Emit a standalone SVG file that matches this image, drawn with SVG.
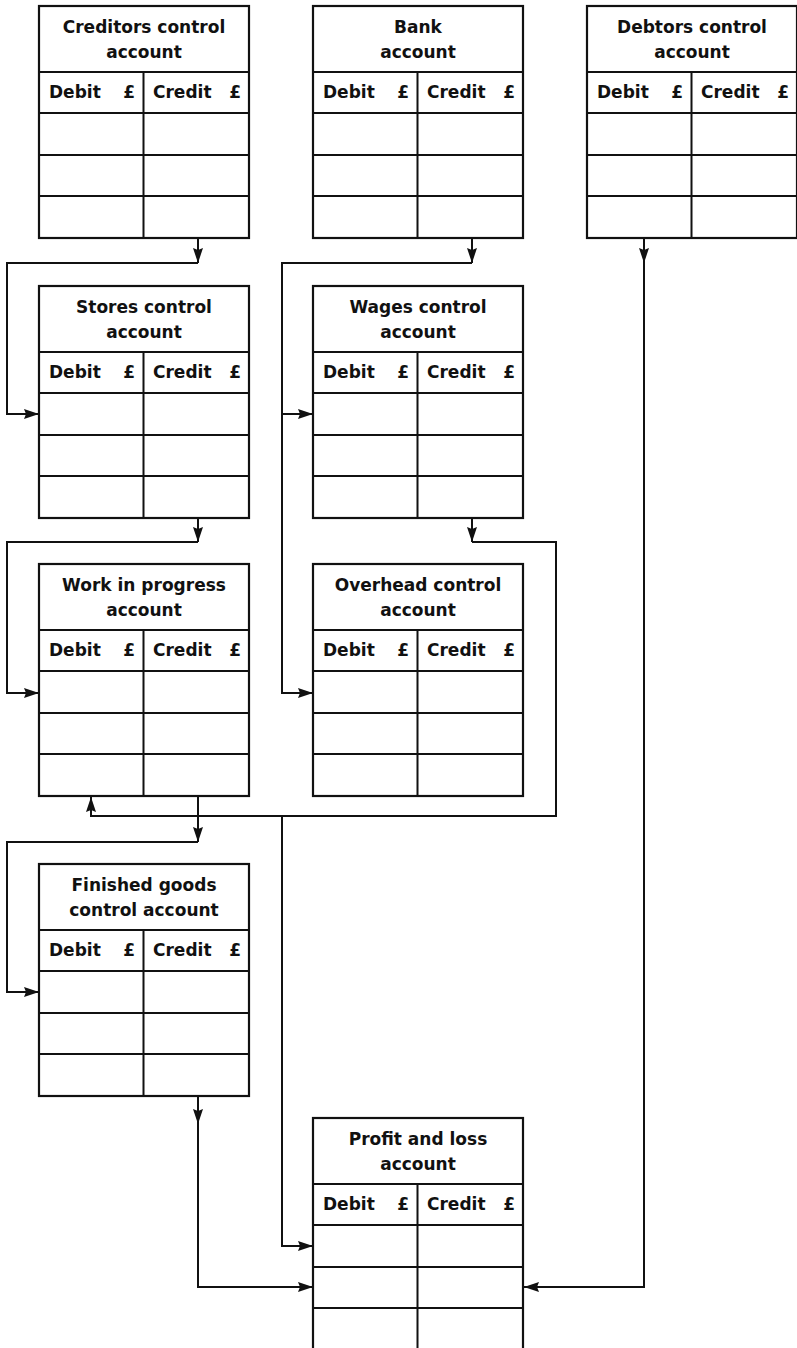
<svg xmlns="http://www.w3.org/2000/svg" xmlns:xlink="http://www.w3.org/1999/xlink" width="797" height="1348" viewBox="0 0 797 1348">
  <style>
    .frame { fill: #ffffff; stroke: #111111; stroke-width: 2.2; }
    .rule { stroke: #111111; stroke-width: 2; fill: none; }
    .title { font-family: "DejaVu Sans", "Liberation Sans", sans-serif; font-weight: bold; font-size: 17px; fill: #111111; text-anchor: middle; }
    .head { font-family: "DejaVu Sans", "Liberation Sans", sans-serif; font-weight: bold; font-size: 17px; fill: #111111; }
    .end { text-anchor: end; }
    .wire { stroke: #111111; stroke-width: 2; fill: none; }
    .tip { marker-end: url(#arrow); }
  </style>
  <defs>
    <marker id="arrow" markerUnits="userSpaceOnUse" viewBox="0 0 15 10" markerWidth="15" markerHeight="10" refX="15" refY="5" orient="auto">
      <path d="M0,0 L15,5 L0,10 L2,5 Z" fill="#111111"/>
    </marker>
    <!-- empty ledger shell: title band 66, header 41, three entry rows -->
    <g id="shell">
      <rect class="frame" x="0" y="0" width="210" height="232"/>
      <path class="rule" d="M0,66 H210 M0,107 H210 M0,149 H210 M0,190 H210 M104.5,66 V232"/>
    </g>
  </defs>

  <rect x="0" y="0" width="797" height="1348" fill="#ffffff"/>

  <!-- connectors -->
  <g id="connectors">
    <!-- creditors to stores -->
    <path class="wire tip" d="M198,238 V263"/>
    <path class="wire tip" d="M198,263 H7 V414 H39"/>
    <!-- bank to wages and overhead -->
    <path class="wire tip" d="M472,238 V263"/>
    <path class="wire tip" d="M472,263 H282 V414 H313"/>
    <path class="wire tip" d="M282,414 V693 H313"/>
    <!-- stores to work in progress -->
    <path class="wire tip" d="M198,518 V542"/>
    <path class="wire tip" d="M198,542 H7 V693 H39"/>
    <!-- wages back to work in progress -->
    <path class="wire tip" d="M472,518 V542"/>
    <path class="wire tip" d="M472,542 H556 V816 H91 V797"/>
    <!-- branch to profit and loss -->
    <path class="wire tip" d="M282,816 V1246 H313"/>
    <!-- work in progress to finished goods -->
    <path class="wire tip" d="M198,796 V842"/>
    <path class="wire tip" d="M198,842 H7 V992 H39"/>
    <!-- finished goods to profit and loss -->
    <path class="wire tip" d="M198,1096 V1124"/>
    <path class="wire tip" d="M198,1124 V1287 H313"/>
    <!-- debtors to profit and loss -->
    <path class="wire tip" d="M644,238 V263"/>
    <path class="wire tip" d="M644,263 V1287 H524"/>
  </g>

  <g id="creditors" transform="translate(39,6)">
    <use xlink:href="#shell" href="#shell"/>
    <text class="title" x="105" y="27">Creditors control</text>
    <text class="title" x="105" y="52">account</text>
    <text class="head" x="10" y="92">Debit</text>
    <text class="head end" x="96" y="92">£</text>
    <text class="head" x="114" y="92">Credit</text>
    <text class="head end" x="202" y="92">£</text>
  </g>

  <g id="bank" transform="translate(313,6)">
    <use xlink:href="#shell" href="#shell"/>
    <text class="title" x="105" y="27">Bank</text>
    <text class="title" x="105" y="52">account</text>
    <text class="head" x="10" y="92">Debit</text>
    <text class="head end" x="96" y="92">£</text>
    <text class="head" x="114" y="92">Credit</text>
    <text class="head end" x="202" y="92">£</text>
  </g>

  <g id="debtors" transform="translate(587,6)">
    <use xlink:href="#shell" href="#shell"/>
    <text class="title" x="105" y="27">Debtors control</text>
    <text class="title" x="105" y="52">account</text>
    <text class="head" x="10" y="92">Debit</text>
    <text class="head end" x="96" y="92">£</text>
    <text class="head" x="114" y="92">Credit</text>
    <text class="head end" x="202" y="92">£</text>
  </g>

  <g id="stores" transform="translate(39,286)">
    <use xlink:href="#shell" href="#shell"/>
    <text class="title" x="105" y="27">Stores control</text>
    <text class="title" x="105" y="52">account</text>
    <text class="head" x="10" y="92">Debit</text>
    <text class="head end" x="96" y="92">£</text>
    <text class="head" x="114" y="92">Credit</text>
    <text class="head end" x="202" y="92">£</text>
  </g>

  <g id="wages" transform="translate(313,286)">
    <use xlink:href="#shell" href="#shell"/>
    <text class="title" x="105" y="27">Wages control</text>
    <text class="title" x="105" y="52">account</text>
    <text class="head" x="10" y="92">Debit</text>
    <text class="head end" x="96" y="92">£</text>
    <text class="head" x="114" y="92">Credit</text>
    <text class="head end" x="202" y="92">£</text>
  </g>

  <g id="work-in-progress" transform="translate(39,564)">
    <use xlink:href="#shell" href="#shell"/>
    <text class="title" x="105" y="27">Work in progress</text>
    <text class="title" x="105" y="52">account</text>
    <text class="head" x="10" y="92">Debit</text>
    <text class="head end" x="96" y="92">£</text>
    <text class="head" x="114" y="92">Credit</text>
    <text class="head end" x="202" y="92">£</text>
  </g>

  <g id="overhead" transform="translate(313,564)">
    <use xlink:href="#shell" href="#shell"/>
    <text class="title" x="105" y="27">Overhead control</text>
    <text class="title" x="105" y="52">account</text>
    <text class="head" x="10" y="92">Debit</text>
    <text class="head end" x="96" y="92">£</text>
    <text class="head" x="114" y="92">Credit</text>
    <text class="head end" x="202" y="92">£</text>
  </g>

  <g id="finished-goods" transform="translate(39,864)">
    <use xlink:href="#shell" href="#shell"/>
    <text class="title" x="105" y="27">Finished goods</text>
    <text class="title" x="105" y="52">control account</text>
    <text class="head" x="10" y="92">Debit</text>
    <text class="head end" x="96" y="92">£</text>
    <text class="head" x="114" y="92">Credit</text>
    <text class="head end" x="202" y="92">£</text>
  </g>

  <g id="profit-and-loss" transform="translate(313,1118)">
    <use xlink:href="#shell" href="#shell"/>
    <text class="title" x="105" y="27">Profit and loss</text>
    <text class="title" x="105" y="52">account</text>
    <text class="head" x="10" y="92">Debit</text>
    <text class="head end" x="96" y="92">£</text>
    <text class="head" x="114" y="92">Credit</text>
    <text class="head end" x="202" y="92">£</text>
  </g>
</svg>
